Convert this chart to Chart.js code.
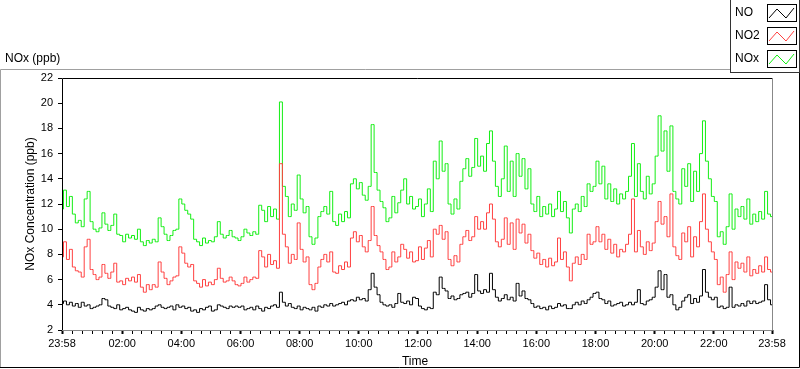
<!DOCTYPE html>
<html lang="en">
<head>
  <meta charset="UTF-8" />
  <title>NOx (ppb)</title>
  <script src="https://cdn.jsdelivr.net/npm/chart.js"></script>
  <style>
    body {
      margin: 0;
      background: #fff;
    }

    #wrap {
      position: relative;
      width: 800px;
      height: 369px;
      background: #fff;
    }
  </style>
</head>

<body>
  <div id="wrap"><canvas id="noxChart" width="800" height="369"></canvas></div>

  <script>
    // one reading every 6 minutes, starting 23:58
    const stepMinutes = 6;

    const noValues = [
      4.1, 4.3, 4.0, 4.2, 3.9, 4.1, 3.8, 4.2, 3.9, 4.0,
      3.7, 3.8, 3.9, 4.0, 4.5, 4.4, 3.9, 3.8, 3.7, 4.0,
      3.6, 3.7, 3.8, 3.6, 3.5, 3.4, 3.8, 3.6, 3.5, 3.7,
      3.6, 3.7, 3.9, 4.0, 3.8, 3.7, 3.8, 3.9, 3.6, 4.0,
      3.8, 3.9, 3.7, 3.8, 3.5, 3.6, 3.4, 3.7, 3.6, 3.8,
      3.9, 3.5, 3.6, 4.0, 3.9, 3.8, 3.7, 3.9, 3.8, 3.9,
      3.8,
      3.9, 3.6, 3.7, 3.8, 3.6, 3.9, 3.7, 3.5, 3.8, 3.7,
      3.9, 4.0, 3.8, 5.0, 4.2, 3.9, 4.1, 3.8, 3.7, 3.9,
      3.6, 3.8, 3.7, 3.6, 3.8, 3.5, 3.9, 3.8, 4.0, 3.9,
      4.1, 3.9, 4.0, 4.1, 4.2, 4.0, 4.3, 4.4, 4.3, 4.6,
      4.4, 4.5, 4.3, 5.2, 6.5, 5.4, 4.8, 4.2, 4.0, 3.9,
      4.0, 3.8, 4.1, 4.9, 4.2, 4.1, 4.3, 4.0, 4.6, 4.5,
      3.9, 3.7, 3.6, 3.8, 3.7, 5.0, 4.8, 6.2, 5.3, 5.1,
      4.5, 4.7, 4.4, 4.5, 4.8, 4.9, 5.0, 4.6, 4.9, 6.4,
      5.1, 4.9, 5.2, 5.0, 6.5, 5.2, 4.6, 4.3, 4.5, 4.8,
      4.4, 4.6, 4.3, 5.7, 4.7, 5.1, 4.5, 4.4, 4.1, 3.8,
      3.9, 3.7, 3.8, 3.6, 3.9, 3.7, 3.8, 4.1, 3.9, 4.0,
      3.7, 3.7, 4.0, 4.2, 4.0, 4.3, 4.1, 4.4, 4.6, 4.9,
      5.0, 4.5, 4.4, 4.1, 4.3, 3.9, 4.0, 4.1, 4.2, 3.9,
      4.0, 4.2, 4.0, 4.2, 5.2, 4.1, 4.0, 4.3, 4.4, 4.6,
      5.4, 6.7, 5.2, 6.4, 4.6, 4.8, 4.0, 3.6, 3.8, 4.3,
      4.6, 4.8, 4.1, 4.5, 4.2, 4.7, 6.8, 5.0, 4.6, 4.4,
      4.6, 3.8, 3.9, 3.7, 3.8, 5.4, 3.8, 4.0, 3.9, 4.1,
      3.9, 4.3, 4.1, 4.3, 4.1, 4.2, 4.3, 5.6, 4.4, 4.0
    ];

    const no2Values = [
      7.8, 9.0, 7.6, 8.4, 7.0, 6.7, 6.6, 6.2, 8.6, 9.2,
      6.8, 6.4, 6.0, 6.2, 7.2, 6.5, 6.1, 6.6, 7.3, 5.8,
      5.9, 5.6, 6.1, 5.9, 6.2, 5.8, 6.4, 5.4, 5.0, 5.6,
      5.2, 5.6, 5.4, 7.4, 6.6, 6.1, 5.6, 5.9, 6.2, 6.3,
      8.6, 8.1, 7.3, 7.0, 7.2, 5.9, 5.7, 5.4, 6.0, 5.5,
      5.8, 5.6, 6.0, 6.9, 6.1, 5.8, 5.9, 6.2, 5.9, 5.6,
      5.5,
      5.7, 6.2, 5.8, 6.0, 6.2, 6.1, 8.3, 7.8, 7.0, 8.0,
      7.2, 7.5, 6.9, 15.2, 9.6, 8.6, 7.3, 8.0, 7.6, 10.5,
      8.4, 7.4, 7.8, 5.6, 5.2, 5.7, 7.0, 7.6, 8.0, 7.4,
      8.2, 6.6, 6.5, 7.1, 6.8, 7.4, 7.0, 9.3, 9.8, 9.0,
      9.5, 8.6, 8.2, 9.1, 11.8, 9.5, 8.7, 8.2, 7.6, 6.8,
      7.0, 8.2, 7.4, 7.8, 8.8, 8.4, 7.7, 8.2, 7.4, 7.5,
      8.6, 7.6, 8.5, 9.1, 7.8, 10.0, 9.6, 10.3, 9.2, 9.8,
      7.6, 7.1, 7.9, 7.4, 8.8, 9.4, 9.9, 9.1, 9.4, 11.0,
      10.0, 10.6, 10.0, 11.3, 12.0, 10.8, 9.0, 8.6, 9.2, 10.9,
      8.8, 10.5, 8.4, 10.8, 9.7, 10.4, 8.9, 9.6, 8.3, 7.7,
      8.1, 7.2, 7.6, 7.0, 7.7, 7.1, 7.4, 9.3, 7.6, 8.2,
      7.0, 5.9, 7.3, 7.8, 7.2, 8.0, 7.6, 9.6, 8.8, 9.0,
      10.2, 9.0, 9.6, 8.4, 9.2, 8.1, 8.8, 7.8, 8.4, 8.2,
      8.8, 9.6, 12.4, 8.2, 9.9, 8.6, 8.0, 9.0, 8.3, 8.9,
      10.6, 12.2, 10.4, 11.0, 9.4, 12.8, 8.6, 7.9, 7.6, 9.7,
      9.0, 10.2, 7.8, 9.4, 8.6, 10.6, 12.8, 10.0, 9.0, 8.2,
      7.6, 5.6, 6.2, 5.0, 6.4, 8.2, 6.0, 7.4, 6.9, 7.3,
      6.6, 7.8, 6.3, 6.8, 6.5, 7.1, 6.6, 7.8, 6.8, 6.6
    ];

    const noxValues = [
      11.6, 13.1, 11.8, 12.6, 11.2, 10.5, 10.7, 10.2, 12.4, 13.0,
      10.6, 10.0, 9.8, 10.1, 11.3, 10.4, 9.9, 10.3, 11.2, 9.6,
      9.5, 9.0, 9.6, 9.3, 9.5, 9.2, 10.0, 9.0, 8.7, 9.1,
      8.9, 9.2, 9.0, 10.9, 10.2, 9.6, 9.1, 9.5, 9.9, 10.0,
      12.4, 12.0, 11.5, 11.2, 10.8, 9.2, 9.0, 8.7, 9.3, 8.9,
      9.1, 9.0, 9.4, 10.6, 9.6, 9.3, 9.5, 9.9, 9.4, 9.3,
      9.1,
      9.4, 10.0, 9.7, 9.5, 9.8, 9.6, 11.9, 11.5, 10.6, 11.8,
      11.0, 11.6, 10.8, 20.1, 13.4, 12.6, 11.0, 12.0, 11.5, 14.3,
      12.4, 11.3, 11.8, 9.4, 8.8, 9.3, 11.0, 11.4, 11.8, 11.2,
      13.0, 10.6, 10.3, 11.2, 10.6, 11.4, 10.9, 13.6, 14.0, 13.2,
      13.7, 12.7, 12.3, 13.4, 18.3, 14.5, 13.1, 12.2, 11.7, 10.6,
      10.9, 12.6, 11.3, 12.1, 13.1, 14.0, 12.0, 12.6, 11.6, 11.8,
      12.4, 11.0, 12.0, 13.2, 11.4, 15.4, 14.0, 17.0, 14.6, 15.2,
      12.0, 11.2, 12.4, 11.6, 13.8, 14.8, 15.6, 14.2, 14.9, 17.2,
      15.0, 15.8, 14.6, 16.8, 17.8, 15.4, 13.4, 12.6, 14.0, 16.6,
      13.0, 15.4, 12.6, 16.0, 14.2, 15.6, 13.2, 14.8, 12.0, 11.4,
      12.6, 11.0, 11.8, 11.2, 12.0, 11.0, 11.6, 13.0, 11.4, 12.2,
      10.9, 9.7, 11.6, 12.0, 11.4, 12.6, 11.8, 13.6, 13.0, 13.4,
      15.4, 13.6, 15.0, 12.4, 13.6, 12.2, 13.2, 12.0, 12.8, 12.4,
      13.0, 14.2, 16.8, 12.6, 15.2, 13.0, 12.4, 14.2, 12.8, 13.6,
      15.8, 19.0, 16.2, 17.8, 14.6, 18.2, 13.0, 12.4, 12.0, 14.8,
      13.4, 15.2, 12.2, 14.6, 13.0, 16.0, 18.6, 15.4, 14.0, 12.6,
      12.2, 9.4, 9.8, 8.8, 10.2, 12.8, 10.0, 11.6, 11.0, 11.8,
      10.8, 12.4, 10.4, 11.2, 10.6, 11.4, 10.8, 13.0, 11.2, 11.0
    ];

    const seriesNames = ['NO', 'NO2', 'NOx'];
    const seriesColors = ['#000000', '#ff4040', '#14ee14'];

    const tickMinutes = [0, 122, 242, 362, 482, 602, 722, 842, 962, 1082, 1202, 1322, 1440];
    const tickLabels = ['23:58', '02:00', '04:00', '06:00', '08:00', '10:00', '12:00',
                        '14:00', '16:00', '18:00', '20:00', '22:00', '23:58'];

    const yTicks = [2, 4, 6, 8, 10, 12, 14, 16, 18, 20, 22];

    const FONT = '"Liberation Sans", Arial, sans-serif';

    function toPoints(values) {
      return values.map((v, i) => ({ x: i * stepMinutes, y: v }));
    }

    // frame, titles and legend box, drawn LabVIEW style (after the chart, nothing overlaps the ticks)
    const decorPlugin = {
      id: 'decor',
      afterDatasetsDraw(chart) {
        const c = chart.ctx;
        const a = chart.chartArea;
        c.save();
        c.lineWidth = 1;
        c.strokeStyle = '#000';
        c.beginPath();
        c.moveTo(a.left + 0.5, a.bottom);
        c.lineTo(a.left + 0.5, a.top + 0.5);
        c.lineTo(a.right, a.top + 0.5);
        c.stroke();
        c.strokeStyle = '#888';
        c.beginPath();
        c.moveTo(a.left, a.bottom + 0.5);
        c.lineTo(a.right + 0.5, a.bottom + 0.5);
        c.lineTo(a.right + 0.5, a.top);
        c.stroke();
        c.restore();
      },
      afterDraw(chart) {
        const c = chart.ctx;
        c.save();

        // outer panel
        c.lineWidth = 1;
        c.strokeStyle = '#a0a0a0';
        c.beginPath();
        c.moveTo(0.5, 368);
        c.lineTo(0.5, 69.5);
        c.lineTo(730, 69.5);
        c.stroke();
        c.strokeStyle = '#000';
        c.beginPath();
        c.moveTo(0, 367.5);
        c.lineTo(799.5, 367.5);
        c.lineTo(799.5, 72);
        c.stroke();

        // graph title
        c.fillStyle = '#000';
        c.font = '12px ' + FONT;
        c.textBaseline = 'middle';
        c.textAlign = 'left';
        c.fillText('NOx (ppb)', 5, 59);

        // axis titles
        c.textAlign = 'center';
        c.fillText('Time', 415, 362);
        c.save();
        c.translate(31, 204);
        c.rotate(-Math.PI / 2);
        c.fillText('NOx Concentration (ppb)', 0, 0);
        c.restore();

        // legend box
        c.strokeStyle = '#333';
        c.strokeRect(730.5, -1, 69, 73.5);
        const rowY = [13, 36, 59];
        seriesNames.forEach((name, k) => {
          const yc = rowY[k];
          c.fillStyle = '#000';
          c.textAlign = 'left';
          c.fillText(name, 735, yc);
          c.strokeStyle = '#000';
          c.strokeRect(767.5, yc - 8.5, 29, 17);
          c.strokeStyle = seriesColors[k];
          c.beginPath();
          c.moveTo(769, yc + 5);
          c.lineTo(777, yc - 4);
          c.lineTo(786, yc + 5);
          c.lineTo(794, yc - 5);
          c.stroke();
        });
        c.restore();
      }
    };

    new Chart(document.getElementById('noxChart'), {
      type: 'line',
      data: {
        datasets: [noValues, no2Values, noxValues].map((vals, k) => ({
          label: seriesNames[k],
          data: toPoints(vals),
          borderColor: seriesColors[k],
          borderWidth: 1,
          pointRadius: 0,
          stepped: 'middle',
          fill: false
        }))
      },
      options: {
        responsive: false,
        animation: false,
        devicePixelRatio: 1,
        layout: { padding: { top: 78, right: 28, left: 0, bottom: 0 } },
        plugins: {
          legend: { display: false },
          tooltip: { enabled: false }
        },
        scales: {
          x: {
            type: 'linear',
            min: 0,
            max: 1440,
            afterFit(scale) { scale.height = 39; },
            afterBuildTicks(scale) {
              const all = tickMinutes.slice();
              for (let m = 22; m < 1440; m += 20) {
                if (!tickMinutes.includes(m)) all.push(m);
              }
              scale.ticks = all.sort((a, b) => a - b).map(v => ({ value: v }));
            },
            border: { display: false },
            grid: {
              drawOnChartArea: false,
              drawTicks: true,
              tickLength: 4,
              tickColor: '#000',
              tickWidth: ctx => (ctx.tick && tickMinutes.includes(ctx.tick.value)) ? 2 : 1
            },
            ticks: {
              autoSkip: false,
              maxRotation: 0,
              padding: 3,
              color: '#000',
              font: { family: FONT, size: 11 },
              callback: value => {
                const k = tickMinutes.indexOf(value);
                return k >= 0 ? tickLabels[k] : '';
              }
            }
          },
          y: {
            min: yTicks[0],
            max: yTicks[yTicks.length - 1],
            afterFit(scale) { scale.width = 62; },
            afterBuildTicks(scale) {
              scale.ticks = yTicks.map(v => ({ value: v }));
            },
            border: { display: false },
            grid: {
              drawOnChartArea: false,
              drawTicks: true,
              tickLength: 4,
              tickColor: '#000'
            },
            ticks: {
              autoSkip: false,
              padding: 5,
              color: '#000',
              font: { family: FONT, size: 11 },
              callback: value => String(value)
            }
          }
        }
      },
      plugins: [decorPlugin]
    });
  </script>
</body>
</html>
